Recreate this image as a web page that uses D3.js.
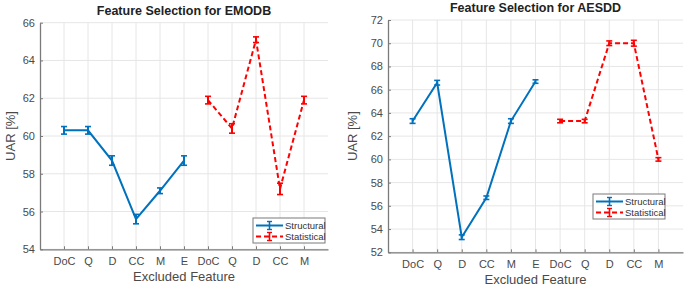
<!DOCTYPE html>
<html><head><meta charset="utf-8">
<script src="https://cdn.jsdelivr.net/npm/d3@7"></script>
<style>body{margin:0;background:#fff;} svg{display:block;font-family:"Liberation Sans",Arial,sans-serif;}</style>
</head><body>
<script>
const categories = ["DoC","Q","D","CC","M","E","DoC","Q","D","CC","M"];
const emodbStructural = [60.3,60.3,58.7,55.6,57.1,58.7];
const emodbStructuralErr = [0.2,0.2,0.25,0.25,0.15,0.25];
const emodbStatistical = [61.9,60.4,65.1,57.2,61.9];
const emodbStatisticalErr = [0.2,0.25,0.15,0.3,0.2];
const aesddStructural = [63.3,66.6,53.3,56.7,63.3,66.7];
const aesddStructuralErr = [0.2,0.2,0.2,0.15,0.2,0.15];
const aesddStatistical = [63.3,63.3,70.0,70.0,60.0];
const aesddStatisticalErr = [0.15,0.15,0.2,0.25,0.15];
const emodbTicks = [54,56,58,60,62,64,66];
const aesddTicks = [52,54,56,58,60,62,64,66,68,70,72];

const svg = d3.select("body").append("svg").attr("width",685).attr("height",288);
const blue="#0072BD", red="#FF0000";

function panel(o){
  const g = svg.append("g");
  const x = d3.scaleLinear().domain([0,12]).range([o.x0,o.x1]);
  const y = d3.scaleLinear().domain([o.ymin,o.ymax]).range([o.y1,o.y0]);
  // grid
  g.selectAll(".gx").data(d3.range(1,12)).join("line")
    .attr("x1",d=>x(d)).attr("x2",d=>x(d)).attr("y1",o.y0).attr("y2",o.y1)
    .attr("stroke","#e6e6e6").attr("stroke-width",1);
  g.selectAll(".gy").data(o.ticks).join("line")
    .attr("x1",o.x0).attr("x2",o.x1).attr("y1",d=>y(d)).attr("y2",d=>y(d))
    .attr("stroke","#e6e6e6").attr("stroke-width",1);
  // axes
  const ax = g.append("g").attr("transform",`translate(0,${o.y1})`)
    .call(d3.axisBottom(x).tickValues(d3.range(1,12)).tickFormat((d,i)=>categories[i]).tickSizeInner(-3).tickSizeOuter(0).tickPadding(8));
  const ay = g.append("g").attr("transform",`translate(${o.x0},0)`)
    .call(d3.axisLeft(y).tickValues(o.ticks).tickSizeInner(-3).tickSizeOuter(0).tickPadding(5));
  [ax,ay].forEach(a=>{
    a.select(".domain").attr("stroke","#7a7a7a").attr("stroke-width",1.3);
    a.selectAll(".tick line").attr("stroke","#7a7a7a");
    a.selectAll("text").attr("fill","#4a4a4a").style("font-size","11px").style("font-family","Liberation Sans, Arial, sans-serif");
  });
  // title
  g.append("text").attr("x",(o.x0+o.x1)/2).attr("y",o.ty).attr("text-anchor","middle")
    .style("font-weight","bold").style("font-size","12.5px").attr("fill","#222").text(o.title);
  g.append("text").attr("transform",`translate(${o.ylx},${(o.y0+o.y1)/2}) rotate(-90)`).attr("text-anchor","middle")
    .style("font-size","13px").attr("fill","#4a4a4a").text("UAR [%]");
  g.append("text").attr("x",(o.x0+o.x1)/2).attr("y",o.xly).attr("text-anchor","middle")
    .style("font-size","13px").attr("fill","#4a4a4a").text("Excluded Feature");
  // series
  function series(vals,errs,offset,color,dash){
    const pts = vals.map((v,i)=>({x:i+1+offset,v:v,e:errs[i]}));
    g.append("path").datum(pts).attr("fill","none").attr("stroke",color).attr("stroke-width",2)
      .attr("stroke-dasharray",dash||null)
      .attr("d",d3.line().x(d=>x(d.x)).y(d=>y(d.v)));
    const eb = g.selectAll(null).data(pts).join("g");
    eb.append("line").attr("x1",d=>x(d.x)).attr("x2",d=>x(d.x)).attr("y1",d=>y(d.v-d.e)).attr("y2",d=>y(d.v+d.e)).attr("stroke",color).attr("stroke-width",2);
    eb.append("line").attr("x1",d=>x(d.x)-3).attr("x2",d=>x(d.x)+3).attr("y1",d=>y(d.v-d.e)).attr("y2",d=>y(d.v-d.e)).attr("stroke",color).attr("stroke-width",1.6);
    eb.append("line").attr("x1",d=>x(d.x)-3).attr("x2",d=>x(d.x)+3).attr("y1",d=>y(d.v+d.e)).attr("y2",d=>y(d.v+d.e)).attr("stroke",color).attr("stroke-width",1.6);
  }
  series(o.s1,o.e1,0,blue,null);
  series(o.s2,o.e2,6,red,"5,3");
  // legend
  const L = g.append("g").attr("transform",`translate(${o.lx},${o.ly})`);
  L.append("rect").attr("width",72).attr("height",25).attr("fill","#fff").attr("stroke","#7a7a7a").attr("stroke-width",1);
  [[blue,null,"Structural",7.5],[red,"5,3","Statistical",18.5]].forEach(([c,da,t,yy])=>{
    L.append("line").attr("x1",3).attr("x2",30).attr("y1",yy).attr("y2",yy).attr("stroke",c).attr("stroke-width",2).attr("stroke-dasharray",da);
    L.append("line").attr("x1",16.5).attr("x2",16.5).attr("y1",yy-4).attr("y2",yy+4).attr("stroke",c).attr("stroke-width",1.6);
    L.append("line").attr("x1",14).attr("x2",19).attr("y1",yy-4).attr("y2",yy-4).attr("stroke",c).attr("stroke-width",1.4);
    L.append("line").attr("x1",14).attr("x2",19).attr("y1",yy+4).attr("y2",yy+4).attr("stroke",c).attr("stroke-width",1.4);
    L.append("text").attr("x",32).attr("y",yy+3.5).style("font-size","9.5px").attr("fill","#333").text(t);
  });
}

panel({x0:40,x1:328,y0:22.7,y1:249.3,ymin:54,ymax:66,ticks:emodbTicks,title:"Feature Selection for EMODB",ty:15,ylx:15,xly:281,
  s1:emodbStructural,e1:emodbStructuralErr,s2:emodbStatistical,e2:emodbStatisticalErr,lx:253,ly:218});
panel({x0:388,x1:683,y0:20,y1:252.3,ymin:52,ymax:72,ticks:aesddTicks,title:"Feature Selection for AESDD",ty:12,ylx:357,xly:284,
  s1:aesddStructural,e1:aesddStructuralErr,s2:aesddStatistical,e2:aesddStatisticalErr,lx:593,ly:194});
</script>
</body></html>
